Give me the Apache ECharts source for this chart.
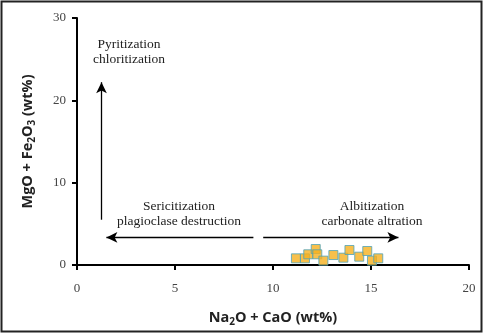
<!DOCTYPE html>
<html>
<head>
<meta charset="utf-8">
<script src="https://cdn.jsdelivr.net/npm/echarts@6/dist/echarts.min.js"></script>
<style>
  html, body { margin: 0; padding: 0; background: #fff; }
  #chart { width: 484px; height: 336px; }
</style>
</head>
<body>
<div id="chart"></div>
<script>
// Sample compositions: Na2O + CaO vs MgO + Fe2O3 (wt%)
var naCaO = [11.17, 11.63, 11.8, 12.18, 12.26, 12.57, 13.08, 13.59, 13.9, 14.4, 14.81, 15.05, 15.37];
var mgFeO = [0.81, 0.81, 1.3, 1.94, 1.3, 0.53, 1.21, 0.89, 1.82, 1.01, 1.7, 0.53, 0.81];
var xTicks = [0, 5, 10, 15, 20];
var yTicks = [0, 10, 20, 30];

// Alteration trend arrows [from, to] in data units
var trendArrows = [
  [[1.25, 5.5], [1.25, 22.2]],
  [[9.0, 3.35], [1.5, 3.35]],
  [[9.5, 3.35], [16.4, 3.35]]
];

var points = naCaO.map(function (x, i) { return [x, mgFeO[i]]; });

var serif = 'Liberation Serif';
var chart = echarts.init(document.getElementById('chart'));

var nameRich = {
  n: { fontFamily: 'Open Sans', fontWeight: 'bold', fontSize: 14.5, color: '#222' },
  s: { fontFamily: 'Open Sans', fontWeight: 'bold', fontSize: 10, color: '#222', padding: [8, 0, 0, 0] }
};

var axisCommon = {
  axisLine: { show: true, onZero: false, lineStyle: { color: '#000', width: 2 } },
  axisTick: { show: true, inside: false, length: 5, lineStyle: { color: '#000', width: 2 } },
  splitLine: { show: false },
  axisLabel: { fontFamily: serif, fontSize: 13, color: '#444' }
};

chart.setOption({
  animation: false,
  backgroundColor: '#fff',
  grid: { left: 77, right: 15, top: 18, bottom: 71 },
  xAxis: Object.assign({}, axisCommon, {
    type: 'value', min: xTicks[0], max: xTicks[xTicks.length - 1], interval: 5,
    axisLabel: Object.assign({}, axisCommon.axisLabel, { margin: 17 }),
    name: '{n|Na}{s|2}{n|O + CaO (wt%)}', nameLocation: 'middle', nameGap: 44,
    nameTextStyle: { rich: nameRich }
  }),
  yAxis: Object.assign({}, axisCommon, {
    type: 'value', min: yTicks[0], max: yTicks[yTicks.length - 1], interval: 10,
    axisLabel: Object.assign({}, axisCommon.axisLabel, { margin: 11 }),
    name: '{n|MgO + Fe}{s|2}{n|O}{s|3}{n| (wt%)}', nameLocation: 'middle', nameGap: 40, nameRotate: 90,
    nameTextStyle: { rich: nameRich }
  }),
  series: [
    {
      type: 'scatter',
      data: points,
      symbol: 'rect',
      symbolSize: 9,
      itemStyle: { color: '#F6B01E', borderColor: '#4FA3B8', borderWidth: 1 },
      z: 5
    },
    {
      type: 'line',
      data: [],
      markLine: {
        silent: true,
        symbol: ['none', 'arrow'],
        symbolSize: [8, 11],
        label: { show: false },
        lineStyle: { color: '#000', width: 1.3, type: 'solid' },
        data: trendArrows.map(function (a) {
          return [{ coord: a[0] }, { coord: a[1] }];
        })
      }
    }
  ],
  graphic: [
    { type: 'rect', shape: { x: 1.5, y: 1.5, width: 480, height: 330 },
      style: { fill: 'none', stroke: '#222', lineWidth: 2 }, silent: true },
    { type: 'text', x: 129, y: 52, style: { text: 'Pyritization\nchloritization', font: '13.5px ' + serif,
      fill: '#222', align: 'center', verticalAlign: 'middle', lineHeight: 15 } },
    { type: 'text', x: 179, y: 214, style: { text: 'Sericitization\nplagioclase destruction', font: '13.5px ' + serif,
      fill: '#222', align: 'center', verticalAlign: 'middle', lineHeight: 15 } },
    { type: 'text', x: 372, y: 214, style: { text: 'Albitization\ncarbonate altration', font: '13.5px ' + serif,
      fill: '#222', align: 'center', verticalAlign: 'middle', lineHeight: 15 } }
  ]
});
</script>
</body>
</html>
